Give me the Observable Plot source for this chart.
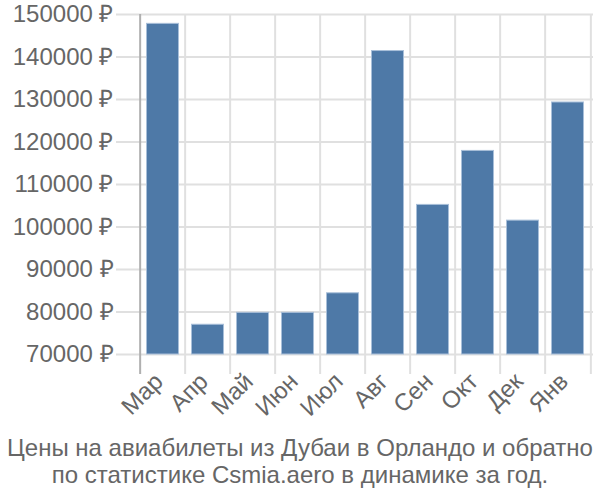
<!DOCTYPE html>
<html>
<head>
<meta charset="utf-8">
<script src="https://cdn.jsdelivr.net/npm/d3@7"></script>
<script src="https://cdn.jsdelivr.net/npm/@observablehq/plot@0.6"></script>
<style>
  body { margin: 0; background: #fff; }
  #chart { width: 600px; height: 430px; }
  .caption { width: 600px; margin-top: 4px; text-align: center; font-family: "Liberation Sans", Arial, sans-serif; font-size: 24px; line-height: 27px; color: #666; white-space: nowrap; }
</style>
</head>
<body>
<div id="chart"></div>
<div class="caption">Цены на авиабилеты из Дубаи в Орландо и обратно<br>по статистике Csmia.aero в динамике за год.</div>
<script>
const months = ["Мар", "Апр", "Май", "Июн", "Июл", "Авг", "Сен", "Окт", "Дек", "Янв"];
const prices = [147800, 77000, 79800, 79800, 84400, 141400, 105200, 117900, 101500, 129300];
const yTicks = [70000, 80000, 90000, 100000, 110000, 120000, 130000, 140000, 150000];

const data = months.map((m, i) => ({month: m, price: prices[i]}));

const W = 600, ML = 136, MR = 7;
const step = (W - ML - MR) / months.length;

const chart = Plot.plot({
  width: W,
  height: 430,
  marginTop: 14,
  marginBottom: 76,
  marginLeft: ML,
  marginRight: MR,
  style: {fontFamily: "Liberation Sans, Arial, sans-serif", fontSize: "24px", color: "#666", background: "#fff", overflow: "visible"},
  x: {domain: months, padding: 0, label: null},
  y: {domain: [70000, 150000], label: null},
  marks: [
    Plot.ruleY(yTicks, {y: d => d, stroke: "#e0e0e0", strokeWidth: 2, insetLeft: -20}),
    Plot.ruleX(months, {x: d => d, dx: -step / 2, stroke: (d, i) => i === 0 ? "#b0b0b0" : "#e0e0e0", strokeWidth: 2, insetBottom: -20}),
    Plot.ruleX([months[months.length - 1]], {x: d => d, dx: step / 2, stroke: "#e0e0e0", strokeWidth: 2, insetBottom: -20}),
    Plot.barY(data, {x: "month", y1: 70000, y2: "price", fill: "#4e79a7", stroke: "#a8bfd9", strokeWidth: 1, insetLeft: 6.5, insetRight: 6.5}),
    Plot.axisY(yTicks, {tickSize: 0, tickPadding: 23, tickFormat: d => d + " ₽", fill: "#666", label: null}),
    Plot.axisX({tickSize: 0, tickRotate: -45, tickPadding: 23, dx: -4, fill: "#666", label: null})
  ]
});
document.getElementById("chart").appendChild(chart);
</script>
</body>
</html>
